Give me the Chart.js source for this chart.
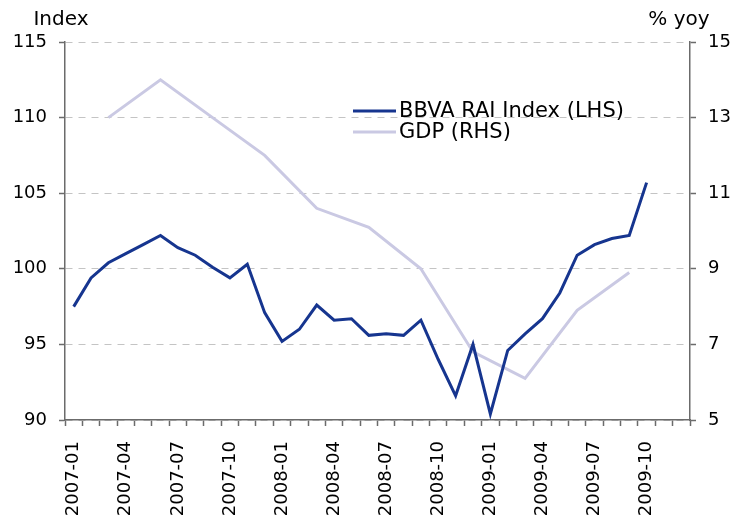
<!DOCTYPE html>
<html>
<head>
<meta charset="utf-8">
<script src="https://cdn.jsdelivr.net/npm/chart.js@4.4.0/dist/chart.umd.min.js"></script>
<style>
  body { margin: 0; background: #fff; }
  #wrap { width: 744px; height: 519px; }
</style>
</head>
<body>
<div id="wrap"><canvas id="mainChart" width="744" height="519"></canvas></div>
<script>
const months = [
    '2007-01', '2007-02', '2007-03', '2007-04', '2007-05', '2007-06',
    '2007-07', '2007-08', '2007-09', '2007-10', '2007-11', '2007-12',
    '2008-01', '2008-02', '2008-03', '2008-04', '2008-05', '2008-06',
    '2008-07', '2008-08', '2008-09', '2008-10', '2008-11', '2008-12',
    '2009-01', '2009-02', '2009-03', '2009-04', '2009-05', '2009-06',
    '2009-07', '2009-08', '2009-09', '2009-10', '2009-11', '2009-12'
];
const raiIndex = [
    97.5, 99.4, 100.4, 101.0, 101.6, 102.2, 101.4, 100.9, 100.1, 99.4, 100.3, 97.1,
    95.2, 96.0, 97.6, 96.6, 96.7, 95.6, 95.7, 95.6, 96.6, 94.0, 91.6, 95.0,
    90.4, 94.6, 95.7, 96.7, 98.4, 100.9, 101.6, 102.0, 102.2, 105.7, null, null
];
const gdpYoy = [
    null, null, 13.0, null, null, 14.0, null, null, 13.0, null, null, 12.0,
    null, null, 10.6, null, null, 10.1, null, null, 9.0, null, null, 6.8,
    null, null, 6.1, null, null, 7.9, null, null, 8.9, null, null, null
];
const seriesNames = ['BBVA RAI Index (LHS)', 'GDP (RHS)'];
const leftTitle = 'Index';
const rightTitle = '% yoy';

const navy = '#16358f';
const lilac = '#cac9e3';
const axisGrey = '#6b6b6b';

Chart.defaults.font.family = "'DejaVu Sans', sans-serif";
Chart.defaults.font.size = 18;
Chart.defaults.color = '#000';

// axis titles above the plot + legend inside the plot
const extras = {
    id: 'extras',
    afterDraw(chart) {
        const ctx = chart.ctx;
        const area = chart.chartArea;
        ctx.save();
        ctx.font = "20px 'DejaVu Sans', sans-serif";
        ctx.fillStyle = '#000';
        ctx.textBaseline = 'alphabetic';
        ctx.textAlign = 'center';
        ctx.fillText(leftTitle, area.left - 4, 25);
        ctx.fillText(rightTitle, area.right - 11, 25);

        const lx = 353, ly = 111, gap = 21;
        ctx.font = "21px 'DejaVu Sans', sans-serif";
        ctx.textAlign = 'left';
        ctx.textBaseline = 'middle';
        chart.data.datasets.forEach(function(ds, i) {
            const y = ly + i * gap;
            ctx.strokeStyle = ds.borderColor;
            ctx.lineWidth = 3;
            ctx.beginPath();
            ctx.moveTo(lx, y);
            ctx.lineTo(lx + 43, y);
            ctx.stroke();
            ctx.fillText(ds.label, lx + 46, y + 1);
        });
        ctx.restore();
    }
};

const ctx = document.getElementById('mainChart').getContext('2d');
const mainChart = new Chart(ctx, {
    type: 'line',
    data: {
        labels: months,
        datasets: [{
            label: seriesNames[0],
            data: raiIndex,
            borderColor: navy,
            borderWidth: 3,
            pointRadius: 0,
            tension: 0,
            yAxisID: 'y'
        }, {
            label: seriesNames[1],
            data: gdpYoy,
            borderColor: lilac,
            borderWidth: 3,
            pointRadius: 0,
            tension: 0,
            spanGaps: true,
            yAxisID: 'y1'
        }]
    },
    options: {
        responsive: false,
        animation: false,
        layout: { padding: { top: 42 } },
        plugins: {
            legend: { display: false },
            tooltip: { enabled: false }
        },
        scales: {
            x: {
                offset: true,
                grid: {
                    offset: true,
                    drawOnChartArea: false,
                    drawTicks: true,
                    tickLength: 6,
                    tickColor: axisGrey,
                    tickWidth: 1.5
                },
                border: { display: true, color: axisGrey, width: 1.5 },
                ticks: {
                    autoSkip: false,
                    minRotation: 90,
                    maxRotation: 90,
                    padding: 15,
                    callback: function(value, index) {
                        return index % 3 === 0 ? months[index] : '';
                    }
                },
                afterFit: function(scale) { scale.height = 99; }
            },
            y: {
                position: 'left',
                min: 90,
                max: 115,
                ticks: { stepSize: 5, padding: 12 },
                grid: {
                    color: '#c4c4c4',
                    lineWidth: 1,
                    tickLength: 6,
                    tickColor: axisGrey,
                    tickWidth: 1.5
                },
                border: { display: true, color: axisGrey, width: 1.5, dash: [7, 6] },
                afterFit: function(scale) { scale.width = 65; }
            },
            y1: {
                position: 'right',
                min: 5,
                max: 15,
                ticks: { stepSize: 2, padding: 12 },
                grid: {
                    drawOnChartArea: false,
                    tickLength: 6,
                    tickColor: axisGrey,
                    tickWidth: 1.5
                },
                border: { display: true, color: axisGrey, width: 1.5 },
                afterFit: function(scale) { scale.width = 54; }
            }
        }
    },
    plugins: [extras]
});
</script>
</body>
</html>
